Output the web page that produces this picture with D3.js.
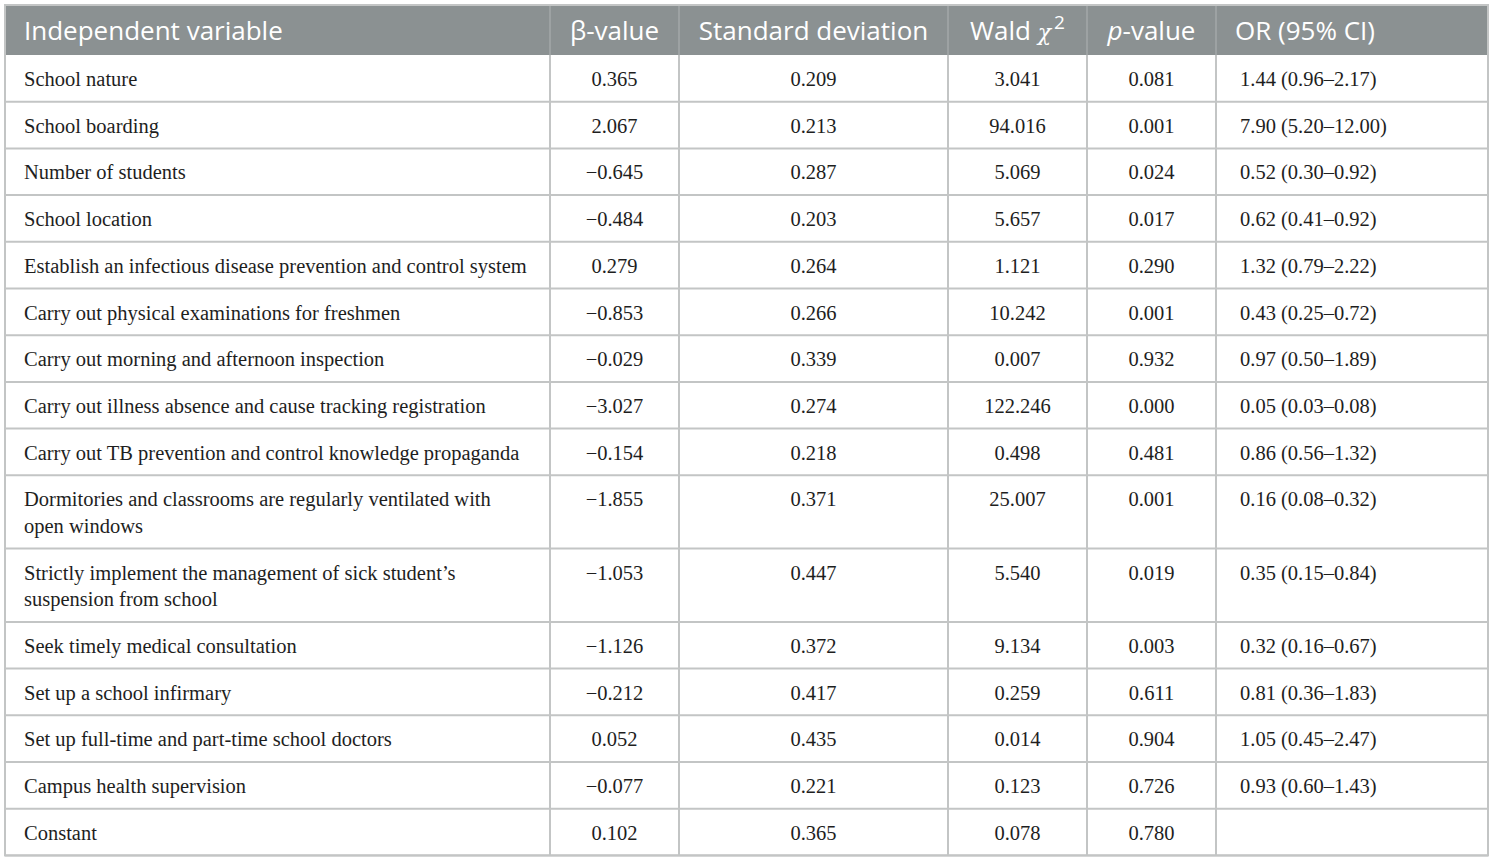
<!DOCTYPE html>
<html>
<head>
<meta charset="utf-8">
<script src="https://cdn.jsdelivr.net/npm/d3@7"></script>
<style>
  body { margin: 0; background: #fff; }
  .head { font-family: "Open Sans", "Noto Sans", sans-serif; font-size: 26px; fill: #fff; }
  .cell { font-family: "Liberation Serif", "DejaVu Serif", serif; font-size: 20.5px; fill: #1e1e1e; }
</style>
</head>
<body>
<script>
(function(){

    //table contents
    var variables = [
        "School nature",
        "School boarding",
        "Number of students",
        "School location",
        "Establish an infectious disease prevention and control system",
        "Carry out physical examinations for freshmen",
        "Carry out morning and afternoon inspection",
        "Carry out illness absence and cause tracking registration",
        "Carry out TB prevention and control knowledge propaganda",
        "Dormitories and classrooms are regularly ventilated with\nopen windows",
        "Strictly implement the management of sick student\u2019s\nsuspension from school",
        "Seek timely medical consultation",
        "Set up a school infirmary",
        "Set up full-time and part-time school doctors",
        "Campus health supervision",
        "Constant"
    ];
    var betaValues = ["0.365","2.067","\u22120.645","\u22120.484","0.279","\u22120.853","\u22120.029","\u22123.027","\u22120.154","\u22121.855","\u22121.053","\u22121.126","\u22120.212","0.052","\u22120.077","0.102"];
    var sdValues = ["0.209","0.213","0.287","0.203","0.264","0.266","0.339","0.274","0.218","0.371","0.447","0.372","0.417","0.435","0.221","0.365"];
    var waldValues = ["3.041","94.016","5.069","5.657","1.121","10.242","0.007","122.246","0.498","25.007","5.540","9.134","0.259","0.014","0.123","0.078"];
    var pValues = ["0.081","0.001","0.024","0.017","0.290","0.001","0.932","0.000","0.481","0.001","0.019","0.003","0.611","0.904","0.726","0.780"];
    var orValues = ["1.44 (0.96\u20132.17)","7.90 (5.20\u201312.00)","0.52 (0.30\u20130.92)","0.62 (0.41\u20130.92)","1.32 (0.79\u20132.22)","0.43 (0.25\u20130.72)","0.97 (0.50\u20131.89)","0.05 (0.03\u20130.08)","0.86 (0.56\u20131.32)","0.16 (0.08\u20130.32)","0.35 (0.15\u20130.84)","0.32 (0.16\u20130.67)","0.81 (0.36\u20131.83)","1.05 (0.45\u20132.47)","0.93 (0.60\u20131.43)",""];

    //frame
    var width = 1494, height = 862;
    var left = 5, right = 1488, top = 5, headH = 50;
    var lineUnit = 46.7, extraLine = 26.6;   //height of a one line row, added per extra line
    var colEdges = [5, 550, 679, 948, 1087, 1216, 1488];
    var colAlign = ["start", "middle", "middle", "middle", "middle", "start"];

    var svg = d3.select("body").append("svg")
        .attr("width", width)
        .attr("height", height);

    //build rows and cumulative positions
    var columns = [variables, betaValues, sdValues, waldValues, pValues, orValues];
    var rows = variables.map(function(v, i){
        return {
            lines: v.split("\n").length,
            cells: columns.map(function(c){ return c[i]; })
        };
    });
    var acc = 0;
    rows.forEach(function(r){
        r.start = acc;
        acc += lineUnit + (r.lines - 1) * extraLine;
        r.end = acc;
    });
    var y = d3.scaleLinear().domain([0, acc]).range([top + headH, top + headH + acc]);
    var x = d3.scaleOrdinal().domain(d3.range(colEdges.length)).range(colEdges);

    function textX(j){
        if (colAlign[j] == "middle") return (x(j) + x(j + 1)) / 2;
        return x(j) + (j == 0 ? 19 : 24);
    }

    //header
    svg.append("rect")
        .attr("x", left).attr("y", top)
        .attr("width", right - left).attr("height", headH)
        .attr("fill", "#8b9192");

    var headers = svg.append("g").attr("class", "head");
    var hy = top + 35;
    headers.append("text").attr("x", textX(0)).attr("y", hy).text("Independent variable");
    headers.append("text").attr("x", textX(1)).attr("y", hy).attr("text-anchor", "middle").text("\u03b2-value");
    headers.append("text").attr("x", textX(2)).attr("y", hy).attr("text-anchor", "middle").text("Standard deviation");
    var wald = headers.append("text").attr("x", textX(3)).attr("y", hy).attr("text-anchor", "middle");
    wald.append("tspan").text("Wald ");
    wald.append("tspan").attr("font-style", "italic").attr("font-family", "DejaVu Serif").attr("font-size", 22).text("\u03c7");
    wald.append("tspan").attr("dy", -11).attr("dx", 3).attr("font-size", 19).text("2");
    var pv = headers.append("text").attr("x", textX(4)).attr("y", hy).attr("text-anchor", "middle");
    pv.append("tspan").attr("font-style", "italic").text("p");
    pv.append("tspan").text("-value");
    headers.append("text").attr("x", textX(5) - 5).attr("y", hy).text("OR (95% CI)");

    //grid lines
    var grid = svg.append("g")
        .attr("stroke", "#c3c5c5")
        .attr("stroke-width", 2);
    grid.selectAll(".hline")
        .data(rows)
        .enter()
        .append("line")
        .attr("x1", left).attr("x2", right)
        .attr("y1", function(d){ return y(d.end); })
        .attr("y2", function(d){ return y(d.end); });
    grid.selectAll(".vline")
        .data(d3.range(1, colEdges.length - 1))
        .enter()
        .append("line")
        .attr("x1", function(d){ return x(d); })
        .attr("x2", function(d){ return x(d); })
        .attr("y1", top + headH).attr("y2", y(acc));
    //column separators in the header
    svg.append("g").attr("stroke", "#a3a8a8").attr("stroke-width", 1.5)
        .selectAll("line")
        .data(d3.range(1, colEdges.length - 1))
        .enter()
        .append("line")
        .attr("x1", function(d){ return x(d); })
        .attr("x2", function(d){ return x(d); })
        .attr("y1", top).attr("y2", top + headH);
    //outer frame
    svg.append("rect")
        .attr("x", left).attr("y", top)
        .attr("width", right - left).attr("height", y(acc) - top)
        .attr("fill", "none")
        .attr("stroke", "#c3c5c5")
        .attr("stroke-width", 2);

    //body text
    var body = svg.append("g").attr("class", "cell");
    rows.forEach(function(r){
        r.cells.forEach(function(c, j){
            var t = body.append("text")
                .attr("x", textX(j))
                .attr("y", y(r.start) + 31)
                .attr("text-anchor", colAlign[j]);
            c.split("\n").forEach(function(line, k){
                t.append("tspan")
                    .attr("x", textX(j))
                    .attr("dy", k == 0 ? 0 : extraLine)
                    .text(line);
            });
        });
    });
})();
</script>
</body>
</html>
